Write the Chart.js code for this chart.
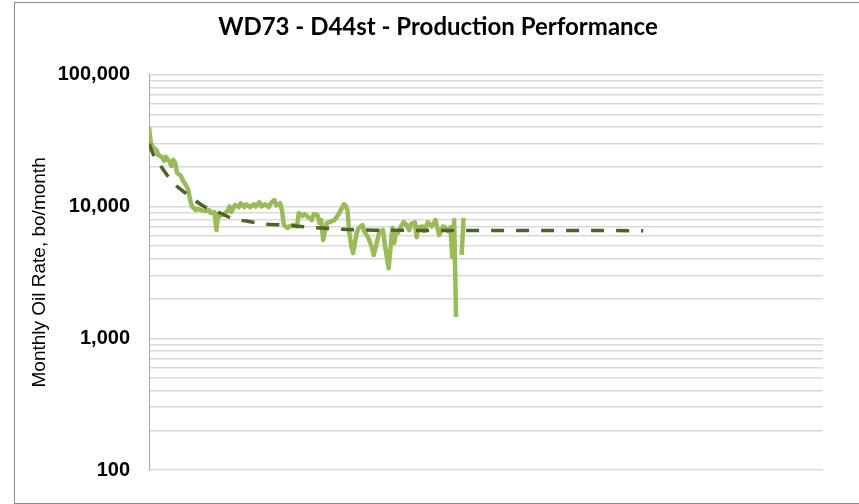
<!DOCTYPE html>
<html>
<head>
<meta charset="utf-8">
<script src="https://cdn.jsdelivr.net/npm/chart.js@4"></script>
<style>
  html, body { margin: 0; padding: 0; background: #fff; overflow: hidden; }
  #frame {
    position: absolute; left: 14px; top: 2px; width: 900px; height: 500px;
    border-left: 1.5px solid #8c8c8c; border-top: 1.5px solid #8c8c8c; border-bottom: 1.5px solid #8c8c8c;
  }
  #wrap { position: absolute; left: 0; top: 0; width: 859px; height: 504px; }
</style>
</head>
<body>
<div id="frame"></div>
<div id="wrap"><canvas id="myChart"></canvas></div>
<script>
// monthly oil rate (bo/month), months since first production
const prodMonth = [0, 1, 2, 4, 5, 7, 8, 9, 11, 12, 13, 14, 15, 17, 18, 20, 21, 22, 23, 25,
  26, 28, 30, 32, 33, 35, 36, 37, 38, 40, 42, 43, 44, 46, 48, 49, 51, 52, 54, 56,
  57, 59, 60, 62, 64, 65, 67, 68, 70, 71, 72, 74, 75, 77, 79, 80, 82, 83, 85, 87,
  88, 90, 91, 92, 93, 95, 97, 99, 101, 103, 104, 105, 106, 107, 108, 109, 111, 112, 114, 115,
  117, 119, 120, 122, 123, 125, 126, 128, 130, 131, 132, 133, 135, 136, 137, 139, 140, 142, 143, 144,
  146, 147, 149, 151, 152, 153, 155, 157, 158, 160, 161, 162, 163, 164, 165, 167, 168];
const oilRate = [40000, 30400, 28300, 26900, 24600, 23800, 22200, 23800, 21800, 20300, 22600, 21400, 18000, 17100, 15900, 14300, 13350, 11200, 9980, 9400,
  9580, 9400, 9240, 9400, 8930, 9100, 6620, 8770, 8470, 8770, 9240, 10000, 9100, 10300, 9900, 10600, 9900, 10400, 9900, 10400,
  10000, 10800, 10000, 10400, 9900, 10600, 11200, 10200, 10600, 9400, 7230, 6870, 7060, 7230, 7060, 8930, 8470, 8770, 8320, 7890,
  8770, 8610, 7500, 7890, 5560, 7500, 7690, 7890, 8610, 9750, 10400, 10200, 9400, 6340, 5090, 4430, 6340, 6880, 7230, 6450,
  5850, 4920, 4280, 5560, 6450, 6620, 5090, 3400, 6880, 5300, 6450, 6340, 7230, 7600, 7400, 6620, 7400, 7600, 5850, 6980,
  7060, 6500, 7600, 7060, 7400, 7890, 6070, 7060, 6980, 6450, 6980, 4140, 7890, 1450, null, 4300, 8200];

// decline curve forecast
const forecastMonth = [0, 3, 7, 13, 21, 29, 38, 44, 52, 62, 73, 85, 101, 120, 180, 264];
const forecastRate = [29800, 23800, 19600, 15100, 12200, 10100, 8930, 8180, 7760, 7360, 7230, 6980, 6740, 6620, 6580, 6560];

const yTickValues = [100, 200, 300, 400, 500, 600, 700, 800, 900,
  1000, 2000, 3000, 4000, 5000, 6000, 7000, 8000, 9000,
  10000, 20000, 30000, 40000, 50000, 60000, 70000, 80000, 90000, 100000];
const yTickLabels = {100: "100", 1000: "1,000", 10000: "10,000", 100000: "100,000"};

const toPoints = (xs, ys) => xs.map((m, i) => ({x: m, y: ys[i]}));

let ctx = document.getElementById("myChart").getContext("2d");
let perfChart = new Chart(ctx, {
    type: "line",
    data: {
        datasets: [{
            label: "Forecast",
            data: toPoints(forecastMonth, forecastRate),
            borderColor: "#4f6228",
            borderWidth: 3.5,
            borderDash: [13, 12],
            pointRadius: 0,
            cubicInterpolationMode: "monotone",
            fill: false
        }, {
            label: "Oil Rate",
            data: toPoints(prodMonth, oilRate),
            borderColor: "#9bbb59",
            borderWidth: 4.5,
            borderJoinStyle: "round",
            pointRadius: 0,
            tension: 0,
            spanGaps: false,
            fill: false
        }]
    },
    options: {
        responsive: true,
        maintainAspectRatio: false,
        animation: false,
        layout: { padding: { left: 20, right: 3, top: 0, bottom: 34 } },
        plugins: {
            legend: { display: false },
            tooltip: { enabled: false },
            title: {
                display: true,
                text: "WD73 - D44st - Production Performance",
                color: "#000",
                font: { family: "Lato", size: 24, weight: "bold" },
                padding: { top: 13, bottom: 33 }
            }
        },
        scales: {
            x: {
                type: "linear",
                min: 0,
                max: 360,
                ticks: { display: false },
                grid: { display: false, drawTicks: false },
                border: { display: false }
            },
            y: {
                type: "logarithmic",
                min: 100,
                max: 100000,
                afterBuildTicks: function(axis) {
                    axis.ticks = yTickValues.map(v => ({value: v}));
                },
                afterFit: function(axis) {
                    axis.width = 129;
                },
                ticks: {
                    autoSkip: false,
                    padding: 19,
                    color: "#000",
                    font: { family: "'Liberation Sans', Arial", size: 20, weight: "bold" },
                    callback: function(value) {
                        return yTickLabels[value] || "";
                    }
                },
                grid: { color: "#d9d9d9", lineWidth: 1.5, drawTicks: false },
                border: { display: true, color: "#a6a6a6", width: 1 },
                title: {
                    display: true,
                    text: "Monthly Oil Rate, bo/month",
                    color: "#000",
                    font: { family: "'Liberation Sans', Arial", size: 19 },
                    padding: { top: 8, bottom: 0 }
                }
            },
            // empty right-hand spacer so the plot ends where the reference does
            yRight: {
                type: "linear",
                position: "right",
                display: true,
                ticks: { display: false },
                grid: { display: false, drawTicks: false },
                border: { display: false },
                afterFit: function(axis) {
                    axis.width = 33;
                }
            }
        }
    }
});
</script>
</body>
</html>
